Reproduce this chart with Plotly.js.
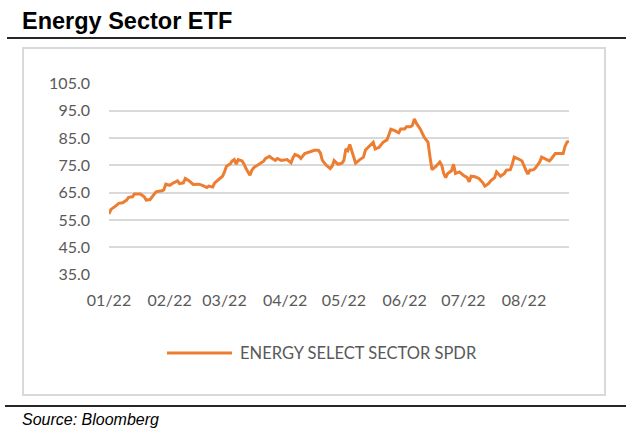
<!DOCTYPE html>
<html>
<head>
<meta charset="utf-8">
<script src="https://cdn.plot.ly/plotly-3.0.1.min.js"></script>
<style>
html,body{margin:0;padding:0;background:#fff;}
#chart{width:642px;height:438px;}
</style>
</head>
<body>
<div id="chart"></div>
<script>
const chartTitle = "Energy Sector ETF";
const sourceText = "Source: Bloomberg";
const seriesName = "ENERGY SELECT SECTOR SPDR";

const dates = [
"2022-01-01","2022-01-02","2022-01-04","2022-01-06","2022-01-08","2022-01-10","2022-01-11","2022-01-13","2022-01-14","2022-01-17",
"2022-01-19","2022-01-20","2022-01-22","2022-01-24","2022-01-25","2022-01-28","2022-01-29","2022-01-30","2022-02-01","2022-02-03",
"2022-02-05","2022-02-06","2022-02-08","2022-02-09","2022-02-11","2022-02-13","2022-02-16","2022-02-18","2022-02-20","2022-02-21",
"2022-02-23","2022-02-24","2022-02-27","2022-02-28","2022-03-01","2022-03-02","2022-03-04","2022-03-05","2022-03-06","2022-03-07",
"2022-03-08","2022-03-10","2022-03-11","2022-03-12","2022-03-14","2022-03-15","2022-03-16","2022-03-18","2022-03-20","2022-03-21",
"2022-03-22","2022-03-24","2022-03-25","2022-03-27","2022-03-28","2022-03-30","2022-04-02","2022-04-04","2022-04-05","2022-04-06",
"2022-04-08","2022-04-09","2022-04-11","2022-04-14","2022-04-16","2022-04-18","2022-04-19","2022-04-20","2022-04-22","2022-04-24",
"2022-04-25","2022-04-26","2022-04-28","2022-04-30","2022-05-01","2022-05-02","2022-05-03","2022-05-04","2022-05-05","2022-05-07",
"2022-05-09","2022-05-11","2022-05-12","2022-05-14","2022-05-16","2022-05-17","2022-05-19","2022-05-21","2022-05-23","2022-05-24",
"2022-05-25","2022-05-27","2022-05-29","2022-05-30","2022-06-01","2022-06-02","2022-06-04","2022-06-05","2022-06-06","2022-06-07",
"2022-06-09","2022-06-11","2022-06-13","2022-06-14","2022-06-15","2022-06-17","2022-06-19","2022-06-20","2022-06-21","2022-06-22",
"2022-06-23","2022-06-25","2022-06-26","2022-06-27","2022-06-29","2022-07-01","2022-07-03","2022-07-04","2022-07-05","2022-07-07",
"2022-07-09","2022-07-11","2022-07-12","2022-07-14","2022-07-15","2022-07-17","2022-07-18","2022-07-20","2022-07-22","2022-07-23",
"2022-07-25","2022-07-26","2022-07-27","2022-07-29","2022-07-31","2022-08-02","2022-08-03","2022-08-04","2022-08-06","2022-08-07",
"2022-08-09","2022-08-10","2022-08-12","2022-08-14","2022-08-15","2022-08-17","2022-08-19","2022-08-21","2022-08-22","2022-08-23",
"2022-08-24"
];

const prices = [
57.2,58.9,59.9,61.1,61.3,62.3,63.3,63.5,64.5,64.5,
63.5,62.3,62.5,64.5,65.3,65.7,66.0,68.1,67.7,68.6,
69.3,68.3,68.6,70.2,69.3,68.0,68.1,67.6,66.9,67.4,
67.1,68.6,70.2,71.0,72.6,74.7,75.6,76.6,77.1,75.4,
77.1,76.6,75.4,73.8,71.4,73.2,74.2,75.0,75.9,76.5,
77.5,78.3,77.7,76.8,77.5,76.8,77.1,75.9,77.8,79.0,
78.3,77.5,79.3,79.9,80.5,80.5,79.5,76.8,75.0,73.8,
74.7,76.8,75.4,75.8,76.8,81.0,80.4,82.6,80.4,75.8,
77.0,78.0,80.6,82.2,83.4,81.0,81.6,83.4,84.3,86.2,
88.2,87.7,86.9,88.3,88.3,89.1,89.1,89.6,92.0,90.4,
88.3,85.3,83.4,78.0,73.4,74.6,76.2,75.0,72.0,70.5,
72.0,73.0,75.4,72.0,72.6,71.4,70.5,69.0,71.0,70.8,
70.2,68.6,67.4,68.4,69.3,70.5,72.6,71.0,72.0,73.2,
73.4,75.4,78.0,77.4,76.6,73.2,71.8,73.2,73.4,74.2,
76.2,78.0,77.4,76.6,77.4,79.3,79.3,79.3,82.0,83.5,
83.9
];

const xTickVals = ["2022-01-01","2022-02-01","2022-03-01","2022-04-01","2022-05-01","2022-06-01","2022-07-01","2022-08-01"];
const xTickText = ["01/22","02/22","03/22","04/22","05/22","06/22","07/22","08/22"];
const yTickVals = [35,45,55,65,75,85,95,105];
const yTickText = ["35.0","45.0","55.0","65.0","75.0","85.0","95.0","105.0"];

const lineColor = "#ED7D31";
const tickFont = {family: "Lato, 'Open Sans', sans-serif", size: 16, color: "#595959"};

const trace = {
  x: dates, y: prices, type: "scatter", mode: "lines",
  name: seriesName,
  line: {color: lineColor, width: 3},
  showlegend: false, hoverinfo: "skip"
};

const layout = {
  width: 642, height: 438,
  margin: {l: 109, r: 73, t: 83, b: 163},
  paper_bgcolor: "#ffffff", plot_bgcolor: "#ffffff",
  xaxis: {
    type: "date", range: ["2022-01-01","2022-08-24"],
    tickmode: "array", tickvals: xTickVals, ticktext: xTickText,
    showgrid: false, zeroline: false, showline: false,
    ticks: "", tickfont: tickFont, ticklabelstandoff: 14
  },
  yaxis: {
    range: [34.9, 105.1],
    tickmode: "array", tickvals: yTickVals, ticktext: yTickText,
    showgrid: true, gridcolor: "#d9d9d9", gridwidth: 2,
    zeroline: false, showline: false, ticks: "",
    tickfont: tickFont, ticklabelstandoff: 18
  },
  shapes: [
    {type: "rect", xref: "paper", yref: "paper", x0: -0.18696, x1: 1.07826, y0: -0.625, y1: 1.18229,
     line: {color: "#d9d9d9", width: 2}, fillcolor: "rgba(0,0,0,0)", layer: "below"},
    {type: "line", xref: "paper", yref: "paper", x0: -0.2217, x1: 1.1239, y0: 1.2344, y1: 1.2344,
     line: {color: "#262626", width: 2}},
    {type: "line", xref: "paper", yref: "paper", x0: -0.2261, x1: 1.1239, y0: -0.6823, y1: -0.6823,
     line: {color: "#262626", width: 2}},
    {type: "line", xref: "paper", yref: "paper", x0: 0.1261, x1: 0.2674, y0: -0.40625, y1: -0.40625,
     line: {color: lineColor, width: 3}}
  ],
  annotations: [
    {text: "<b>" + chartTitle + "</b>", xref: "paper", yref: "paper", x: -0.1935, y: 1.3229,
     xanchor: "left", yanchor: "middle", showarrow: false,
     font: {family: "'Liberation Sans', Arial, sans-serif", size: 23.5, color: "#000000"}},
    {text: seriesName, xref: "paper", yref: "paper", x: 0.2804, y: -0.40625,
     xanchor: "left", yanchor: "middle", showarrow: false,
     font: {family: "Lato, 'Open Sans', sans-serif", size: 16.5, color: "#595959"}},
    {text: "<i>" + sourceText + "</i>", xref: "paper", yref: "paper", x: -0.1935, y: -0.75,
     xanchor: "left", yanchor: "middle", showarrow: false,
     font: {family: "'Liberation Sans', Arial, sans-serif", size: 16, color: "#000000"}}
  ]
};

Plotly.newPlot("chart", [trace], layout, {displayModeBar: false, staticPlot: true});
</script>
</body>
</html>
